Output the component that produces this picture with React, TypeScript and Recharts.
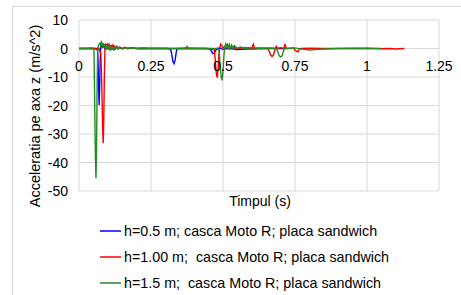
import React from 'react';
import { LineChart, Line, XAxis, YAxis, CartesianGrid } from 'recharts';

// time axis (s) and acceleration (m/s^2)
const blueT = [0, 0.02, 0.04, 0.055, 0.06, 0.064, 0.066, 0.068, 0.07, 0.072, 0.074, 0.076, 0.078, 0.08, 0.083, 0.086, 0.089, 0.092, 0.095, 0.098, 0.101, 0.104, 0.108, 0.112, 0.116, 0.12, 0.125, 0.13, 0.135, 0.14, 0.15, 0.16, 0.17, 0.18, 0.2, 0.22, 0.25, 0.28, 0.31, 0.318, 0.322, 0.326, 0.33, 0.334, 0.338, 0.342, 0.36, 0.4, 0.44, 0.455, 0.46, 0.465, 0.47, 0.475, 0.48, 0.49, 0.5, 0.52, 0.55, 0.58, 0.62, 0.66, 0.7, 0.72];
const blueV = [0, 0, 0.1, 0, -0.3, 0, -4, -14, -19.8, -12, -3, 1.5, 0.5, 1.8, 0.2, 1.6, 0.3, 1.2, -0.3, 1.0, 0.2, 1.3, -0.2, 0.8, 0, 0.9, -0.2, 0.6, 0, 0.5, -0.1, 0.3, 0, 0.2, 0, 0.1, 0, 0, 0, -0.3, -2, -4.5, -5.3, -4, -1, 0, 0, 0, 0, -0.2, -1, -1.8, -1.6, -0.6, 0, 0.2, -0.3, 0.1, -0.4, -0.2, -0.1, 0, 0, 0];

const redT = [0, 0.03, 0.06, 0.07, 0.076, 0.079, 0.082, 0.084, 0.086, 0.088, 0.09, 0.092, 0.095, 0.098, 0.101, 0.104, 0.107, 0.11, 0.113, 0.116, 0.12, 0.124, 0.128, 0.132, 0.137, 0.142, 0.15, 0.16, 0.17, 0.18, 0.2, 0.22, 0.25, 0.3, 0.35, 0.38, 0.42, 0.45, 0.47, 0.473, 0.477, 0.48, 0.483, 0.486, 0.489, 0.492, 0.5, 0.51, 0.52, 0.53, 0.55, 0.58, 0.6, 0.605, 0.61, 0.63, 0.655, 0.66, 0.665, 0.67, 0.675, 0.68, 0.685, 0.69, 0.7, 0.712, 0.715, 0.72, 0.745, 0.75, 0.76, 0.765, 0.77, 0.8, 0.85, 0.9, 0.95, 1.0, 1.05, 1.08, 1.1, 1.13];
const redV = [0, 0, 0, 0, -2, -12, -28, -33.2, -25, -10, -1, 1.5, 0.2, 1.8, 0, 1.5, -0.5, 1.2, 0, 1.0, -0.3, 0.8, 0, 0.7, -0.2, 0.5, 0, 0.4, -0.1, 0.3, 0, 0.1, 0, 0, 0, 0.1, 0, 0, -0.5, -4, -9, -10.2, -7, -2, 0.5, 1.5, 0.3, 0.8, -0.2, 0.5, 0, 0.3, 0, 1.5, 0, 0.2, 0, -0.8, -2.2, -2.8, -2.3, -0.6, 0.8, 0, 0.3, 0, 1.6, 0, 0.2, -0.6, -1.2, -0.3, 0, 0.1, 0, 0, 0, 0.1, -0.1, 0, -0.2, 0];

const greenT = [0, 0.03, 0.05, 0.052, 0.054, 0.057, 0.059, 0.061, 0.063, 0.065, 0.067, 0.07, 0.073, 0.076, 0.079, 0.082, 0.085, 0.088, 0.091, 0.094, 0.097, 0.1, 0.104, 0.108, 0.112, 0.116, 0.12, 0.125, 0.13, 0.135, 0.14, 0.15, 0.16, 0.17, 0.19, 0.21, 0.24, 0.27, 0.3, 0.35, 0.37, 0.375, 0.38, 0.42, 0.45, 0.48, 0.487, 0.49, 0.494, 0.497, 0.5, 0.503, 0.506, 0.509, 0.512, 0.515, 0.518, 0.522, 0.526, 0.53, 0.535, 0.54, 0.55, 0.56, 0.58, 0.6, 0.63, 0.66, 0.685, 0.69, 0.695, 0.7, 0.705, 0.71, 0.715, 0.72, 0.75, 0.78, 0.8, 0.83, 0.86, 0.9, 0.95, 1.0, 1.05];
const greenV = [0, 0, 0, -0.5, -15, -38, -45.5, -35, -12, -1, 1, 1.5, 2.0, 1.2, 2.2, 0.8, 1.8, 0.3, 1.5, -0.3, 1.2, 0, 1.0, -0.4, 0.8, 0, 0.7, -0.3, 0.5, 0, 0.4, -0.2, 0.3, 0, 0.2, -0.1, 0, 0.1, 0, 0, 0, 0.8, 0, 0, 0, 0, -1, -6, -10, -11.2, -8, -3, 0.5, 1.5, 0.2, 1.8, 0.3, 1.4, 0, 1.2, 0.2, 1.0, 0, 0.5, 0, 0.3, 0, 0.2, 0, -1, -2.5, -3, -2.6, -0.8, 0.3, 0, 0.2, -0.3, -0.5, -0.3, -0.2, 0, 0.1, 0, 0];

const xTicks = [0, 0.25, 0.5, 0.75, 1, 1.25];
const yTicks = [10, 0, -10, -20, -30, -40, -50];

const seriesNames = [
  'h=0.5 m; casca Moto R; placa sandwich',
  'h=1.00 m;  casca Moto R; placa sandwich',
  'h=1.5 m;  casca Moto R; placa sandwich',
];
const seriesColors = ['#0000ff', '#ff0000', '#228b22'];

const toRows = (t: number[], v: number[]) => t.map((x, i) => ({ t: x, a: v[i] }));

const FONT = 'Liberation Sans, Arial, sans-serif';
const TOP = 20;
const PLOT_H = 171;
const ZERO_Y = TOP + PLOT_H * (10 / 60);

const XTick = (props: any) => {
  const { x, payload } = props;
  return (
    <text x={x} y={ZERO_Y + 22} textAnchor="middle" fontSize={14} fill="#000" fontFamily={FONT}>
      {String(payload.value)}
    </text>
  );
};

const YTick = (props: any) => {
  const { y, payload } = props;
  return (
    <text x={68} y={y + 5} textAnchor="end" fontSize={14} fill="#000" fontFamily={FONT}>
      {String(payload.value)}
    </text>
  );
};

export default function App() {
  const series = [toRows(blueT, blueV), toRows(redT, redV), toRows(greenT, greenV)];
  return (
    <div style={{ position: 'absolute', left: 0, top: 0, width: 461, height: 295, background: '#fff', overflow: 'hidden', fontFamily: FONT }}>
      <div style={{ position: 'absolute', left: 12, top: 6, width: 470, height: 300, borderLeft: '1px solid #d9d9d9', borderTop: '1px solid #d9d9d9' }} />
      <div style={{ position: 'absolute', left: 0, top: 0 }}>
        <LineChart width={461} height={295} margin={{ top: TOP, right: 22, left: 0, bottom: 0 }}>
          <CartesianGrid stroke="#d9d9d9" strokeWidth={1} />
          <XAxis
            type="number"
            dataKey="t"
            domain={[0, 1.25]}
            ticks={xTicks}
            axisLine={false}
            tickLine={false}
            height={104}
            tick={<XTick />}
            allowDataOverflow
          />
          <YAxis
            type="number"
            domain={[-50, 10]}
            ticks={yTicks}
            axisLine={false}
            tickLine={false}
            width={79}
            tick={<YTick />}
            allowDataOverflow
          />
          {series.map((d, i) => (
            <Line
              key={i}
              data={d}
              dataKey="a"
              type="linear"
              stroke={seriesColors[i]}
              strokeWidth={1.4}
              dot={false}
              isAnimationActive={false}
            />
          ))}
          <text x={260} y={206} textAnchor="middle" fontSize={14} fill="#000" fontFamily={FONT}>
            Timpul (s)
          </text>
          <text
            x={0}
            y={0}
            transform="translate(35 116) rotate(-90)"
            textAnchor="middle"
            dominantBaseline="central"
            fontSize={14.5}
            fill="#000"
            fontFamily={FONT}
          >
            Acceleratia pe axa z (m/s^2)
          </text>
        </LineChart>
      </div>
      {seriesNames.map((name, i) => (
        <div key={i} style={{ position: 'absolute', left: 100, top: 222 + i * 26, height: 18, display: 'flex', alignItems: 'center' }}>
          <svg width={21} height={4} style={{ display: 'block' }}>
            <line x1={0} y1={2} x2={21} y2={2} stroke={seriesColors[i]} strokeWidth={1.5} />
          </svg>
          <span style={{ marginLeft: 3, fontSize: 14.3, whiteSpace: 'pre', color: '#000' }}>{name}</span>
        </div>
      ))}
    </div>
  );
}
